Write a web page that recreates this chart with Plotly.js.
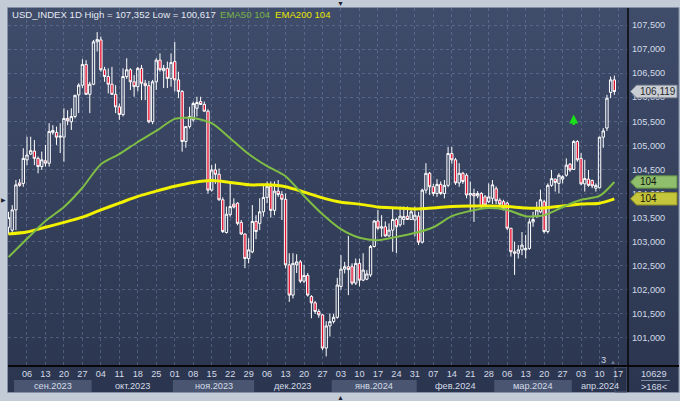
<!DOCTYPE html>
<html>
<head>
<meta charset="utf-8">
<script src="https://cdn.plot.ly/plotly-3.0.1.min.js"></script>
<style>
html,body{margin:0;padding:0;background:#c3cbd7;overflow:hidden;}
#chart{width:680px;height:401px;}
</style>
</head>
<body>
<div id="chart"></div>
<script>
// ---------------- DATA ----------------
const symbolName = 'USD_INDEX';
const timeframe = '1D';
const startDate = '2023-08-30';   // first bar; bars are consecutive weekdays

const open = [
103.30,103.24,103.66,104.22,104.21,104.70,104.82,104.88,104.73,104.56,
104.68,104.63,105.27,105.27,105.17,105.17,105.56,105.49,105.60,106.05,
106.25,106.68,106.06,106.27,107.15,107.19,106.57,106.43,106.27,106.06,
105.80,105.64,106.43,106.57,106.32,106.22,106.60,106.29,106.24,105.49,
106.32,106.77,106.55,106.60,106.39,106.74,106.36,106.12,105.08,105.39,
105.53,105.77,105.91,105.85,105.71,104.07,104.49,104.40,103.87,103.19,
103.56,103.78,103.80,103.40,103.16,102.65,102.79,103.42,103.38,103.62,
103.92,104.15,103.65,104.05,103.98,103.88,102.52,101.89,102.52,102.58,
102.18,102.30,101.86,101.73,101.55,101.48,100.79,101.25,101.34,101.43,
102.07,102.43,102.48,102.48,102.14,102.55,102.20,102.22,102.31,102.90,
103.43,103.28,103.31,103.12,103.24,103.46,103.35,103.46,103.53,103.46,
103.45,103.53,102.99,104.07,104.42,104.14,104.00,104.19,104.00,104.17,
104.83,104.70,104.22,104.42,104.38,103.97,104.00,103.95,104.00,103.93,
103.83,103.90,104.10,103.86,103.83,103.80,103.28,102.79,102.76,102.83,
102.83,102.86,103.41,103.52,103.62,103.83,103.21,104.17,104.30,104.21,
104.30,104.38,104.61,104.50,105.08,104.73,104.20,104.30,104.27,104.11,
104.12,105.17,105.36,106.10,106.36];

const high = [
103.62,103.76,104.28,104.30,104.94,105.18,105.18,105.11,104.77,104.87,
105.01,105.46,105.42,105.39,105.46,105.77,105.73,105.77,106.05,106.29,
106.79,106.77,106.32,107.19,107.352,107.26,106.63,106.60,106.63,106.25,
105.87,106.60,106.81,106.60,106.46,106.63,106.67,106.36,106.34,106.36,
106.81,106.91,106.67,106.74,106.91,107.15,106.53,106.15,105.39,105.80,
105.91,106.01,106.01,105.91,105.75,104.59,104.62,104.52,103.92,103.73,
104.23,103.90,103.82,103.45,103.17,103.07,103.76,103.55,103.90,104.20,
104.25,104.25,104.25,104.28,104.05,104.00,102.76,102.76,102.74,102.62,
102.52,102.35,101.89,101.77,101.60,101.50,101.35,101.51,101.50,102.25,
102.72,102.58,103.12,102.55,102.65,102.65,102.76,102.41,102.93,103.45,
103.66,103.55,103.42,103.38,103.69,103.50,103.73,103.73,103.73,103.66,
103.73,103.62,104.10,104.63,104.45,104.20,104.30,104.25,104.28,104.97,
104.97,104.74,104.63,104.45,104.42,104.25,104.10,104.05,104.03,103.97,
104.21,104.28,104.15,103.90,103.87,103.83,103.28,103.00,102.93,103.20,
103.14,103.48,103.62,103.83,104.08,103.87,104.21,104.49,104.31,104.42,
104.38,104.73,104.63,105.11,105.11,104.84,104.70,104.49,104.29,104.21,
105.18,105.36,106.05,106.43,106.45];

const low = [
103.15,103.14,103.24,104.14,104.14,104.59,104.80,104.59,104.42,104.49,
104.56,104.56,105.22,105.01,104.84,104.66,105.42,105.32,105.56,105.67,
106.19,106.05,105.67,106.25,106.95,106.53,106.32,106.08,106.05,105.67,
105.53,105.60,106.38,106.15,106.01,106.12,105.94,105.94,105.46,105.44,
106.15,106.53,106.19,106.19,106.22,106.12,105.98,104.87,104.95,105.35,
105.49,105.60,105.84,105.70,104.00,104.04,104.20,103.85,103.18,103.17,
103.52,103.69,103.34,103.14,102.45,102.55,102.76,103.05,103.24,103.52,
103.80,103.50,103.55,103.93,103.45,102.45,101.75,101.82,102.35,102.14,
102.14,101.86,101.41,101.50,101.42,100.75,100.617,101.03,101.30,101.40,
102.00,102.34,101.89,102.10,102.10,102.07,102.18,102.20,102.27,102.88,
103.24,103.10,103.10,103.10,102.79,102.76,103.31,103.35,103.45,103.45,
103.11,102.93,102.96,104.00,103.97,103.95,103.93,103.97,103.90,104.13,
104.62,104.18,104.14,104.20,103.90,103.62,103.41,103.90,103.69,103.73,
103.80,103.78,103.78,103.73,103.65,103.24,102.69,102.31,102.65,102.72,
102.65,102.83,103.31,103.50,103.59,103.17,103.17,104.14,104.04,104.00,
104.21,104.35,104.45,104.49,104.66,104.17,104.04,104.14,104.11,104.04,
104.11,104.95,105.30,105.98,106.05];

const close = [
103.50,103.66,104.18,104.17,104.73,104.80,104.89,104.73,104.56,104.70,
104.63,105.29,105.31,105.17,105.19,105.56,105.51,105.60,106.04,106.25,
106.68,106.06,106.27,107.15,107.20,106.57,106.43,106.27,106.06,105.80,
105.64,106.43,106.57,106.32,106.22,106.60,106.29,106.24,105.49,106.32,
106.77,106.57,106.60,106.39,106.72,106.36,106.12,105.08,105.39,105.60,
105.87,105.89,105.85,105.71,104.07,104.49,104.40,103.87,103.21,103.57,
103.73,103.72,103.38,103.16,102.65,102.83,103.42,103.21,103.62,103.92,
104.15,103.65,104.05,103.98,103.88,102.52,101.89,102.55,102.58,102.18,
102.30,101.89,101.73,101.55,101.48,100.79,101.25,101.34,101.43,102.10,
102.43,102.48,102.42,102.14,102.55,102.20,102.41,102.33,102.90,103.43,
103.28,103.31,103.12,103.24,103.46,103.31,103.53,103.52,103.46,103.62,
103.55,102.99,104.07,104.42,104.14,104.00,104.19,104.00,104.17,104.83,
104.70,104.22,104.42,104.25,103.97,104.00,103.95,104.00,103.73,103.76,
103.93,104.18,103.85,103.78,103.69,103.28,102.79,102.76,102.83,102.93,
102.86,103.41,103.46,103.66,103.87,103.21,104.17,104.31,104.23,104.38,
104.35,104.59,104.49,105.08,104.70,104.20,104.31,104.17,104.16,104.17,
105.17,105.30,105.98,106.36,106.119];

// EMA lines (bar index -> value)
const emaIdx = [0,5,10,15,20,25,30,35,40,45,50,55,60,65,70,75,80,85,90,95,100,105,110,115,120,125,130,135,140,145,150,155,160,164];
const ema50 = [102.68,103.06,103.43,103.72,104.12,104.61,104.82,105.07,105.30,105.55,105.57,105.46,105.15,104.82,104.57,104.36,103.95,103.57,103.26,103.08,103.03,103.10,103.18,103.30,103.53,103.64,103.70,103.66,103.53,103.55,103.72,103.87,103.95,104.24];
const ema200 = [103.16,103.20,103.30,103.40,103.51,103.66,103.80,103.94,104.05,104.15,104.23,104.27,104.23,104.18,104.18,104.14,104.03,103.91,103.82,103.78,103.72,103.70,103.68,103.70,103.73,103.74,103.74,103.73,103.70,103.70,103.74,103.78,103.80,103.89];

// buy signal arrow
const signalIdx = [153];
const signalPrice = [105.64];

const yTicks = [101,101.5,102,102.5,103,103.5,104,104.5,105,105.5,106,106.5,107,107.5];
const monthNames = ['янв.','фев.','мар.','апр.','май','июн.','июл.','авг.','сен.','окт.','ноя.','дек.'];
const barCountText = '10629';
const visibleText = '>168<';

// ---------------- BUILD ----------------
const W = 680, H = 401, mL = 8, mR = 52, mT = 8, mB = 35;
const plotW = W - mL - mR, plotH = H - mT - mB;
const px = v => (v - mL) / plotW;          // pixel x -> paper
const py = v => (H - mB - v) / plotH;      // pixel y -> paper
const xRange = [-0.14, 167.7];
const yRange = [100.418, 107.853];

// weekday calendar
const dates = [];
{
  const d = new Date(startDate + 'T00:00:00Z');
  while (dates.length < open.length + 1) {
    const wd = d.getUTCDay();
    if (wd !== 0 && wd !== 6) dates.push(new Date(d));
    d.setUTCDate(d.getUTCDate() + 1);
  }
}
const idx = open.map((_, i) => i);
const fmt = v => v.toFixed(3).replace('.', ',');

// weekly ticks on Wednesdays
const tickvals = [], ticktext = [];
dates.forEach((d, i) => {
  if (d.getUTCDay() === 3 && i >= 1) {
    tickvals.push(i);
    ticktext.push(String(d.getUTCDate()).padStart(2, '0'));
  }
});

const GRID = 'rgba(120,140,178,0.45)';
const TXT = '#d3dbe8';
const FONT = 'Liberation Sans, Arial, sans-serif';

const shapes = [];
const annotations = [];

// dark panel outline
shapes.push({type:'rect', xref:'paper', yref:'paper', x0:px(7.5), x1:px(679), y0:py(392.5), y1:py(7.5),
  line:{color:'#8390a6', width:1}, fillcolor:'rgba(0,0,0,0)', layer:'below'});

// month boxes
const months = [];
dates.forEach((d, i) => {
  const key = d.getUTCFullYear() * 12 + d.getUTCMonth();
  if (!months.length || months[months.length-1].key !== key)
    months.push({key, m:d.getUTCMonth(), y:d.getUTCFullYear(), first:i, last:i});
  else months[months.length-1].last = i;
});
months.forEach((mo, k) => {
  const a = Math.max(mo.first - 0.5, xRange[0]);
  const b = (k === months.length - 1) ? xRange[1] : Math.min(mo.last + 0.5, xRange[1]);
  if (mo.m % 2 === 0) {
    shapes.push({type:'rect', xref:'x', yref:'paper', x0:a, x1:b, y0:py(392), y1:py(380),
      fillcolor:'#4a5671', line:{width:0}, layer:'below'});
  }
  if ((b - a) > 8) {
    annotations.push({xref:'x', yref:'paper', x:(a + b) / 2, y:py(386), showarrow:false,
      text: monthNames[mo.m] + mo.y, font:{family:FONT, size:9.2, color:TXT}, xanchor:'center', yanchor:'middle'});
  }
});
// future / current area box at bottom right
shapes.push({type:'rect', xref:'paper', yref:'paper', x0:px(615), x1:px(627), y0:py(392), y1:py(367),
  fillcolor:'#28314a', line:{color:'#4f5b74', width:1}, layer:'below'});

// black separator lines
shapes.push({type:'line', xref:'paper', yref:'paper', x0:px(8), x1:px(679), y0:0, y1:0, line:{color:'#080808', width:2}});
shapes.push({type:'line', xref:'paper', yref:'paper', x0:1, x1:1, y0:py(392), y1:py(8), line:{color:'#080808', width:1.5}});
// small line between the bottom-right counters
shapes.push({type:'line', xref:'paper', yref:'paper', x0:px(641), x1:px(670), y0:py(380.5), y1:py(380.5), line:{color:'#7d8aa0', width:1}});

// price tags on the right
const last = close.length - 1;
function tag(val, fill, border, txt, txtColor) {
  const h = 6.2 / 48.15;
  const xt = px(630.5), x1 = px(636.5), x2 = px(677);
  shapes.push({type:'path', xref:'paper', yref:'y',
    path:`M ${xt},${val} L ${x1},${val + h} L ${x2},${val + h} L ${x2},${val - h} L ${x1},${val - h} Z`,
    fillcolor:fill, line:{color:border, width:1}, layer:'above'});
  annotations.push({xref:'paper', yref:'y', x:px(637.5), y:val, text:txt, showarrow:false,
    xanchor:'left', yanchor:'middle', font:{family:FONT, size:10, color:txtColor}});
}
tag(close[last], '#c9cdd4', '#8e949e', fmt(close[last]), '#2a2a2a');
tag(ema50[ema50.length-1], '#8fbe6c', '#5d8a45', String(Math.round(ema50[ema50.length-1])), '#111');
tag(ema200[ema200.length-1], '#c6c63c', '#8c8c24', String(Math.round(ema200[ema200.length-1])), '#111');

// header texts
const hi = Math.max(...high), lo = Math.min(...low);
annotations.push({xref:'paper', yref:'paper', x:px(10), y:py(14), xanchor:'left', yanchor:'middle', showarrow:false,
  text:`${symbolName} ${timeframe} High = ${fmt(hi)} Low = ${fmt(lo)}`, font:{family:FONT, size:9.6, color:'#e4e9f1'}});
annotations.push({xref:'paper', yref:'paper', x:px(218), y:py(14), xanchor:'left', yanchor:'middle', showarrow:false,
  text:`EMA50 ${Math.round(ema50[ema50.length-1])}`, font:{family:FONT, size:9.6, color:'#79b447'}});
annotations.push({xref:'paper', yref:'paper', x:px(273), y:py(14), xanchor:'left', yanchor:'middle', showarrow:false,
  text:`EMA200 ${Math.round(ema200[ema200.length-1])}`, font:{family:FONT, size:9.6, color:'#e6e600'}});

// bottom-right counters
annotations.push({xref:'paper', yref:'paper', x:px(654), y:py(373.5), showarrow:false, text:barCountText,
  font:{family:FONT, size:9.2, color:TXT}, xanchor:'center', yanchor:'middle'});
annotations.push({xref:'paper', yref:'paper', x:px(654), y:py(387), showarrow:false, text:visibleText,
  font:{family:FONT, size:9.2, color:TXT}, xanchor:'center', yanchor:'middle'});
// small markers
annotations.push({xref:'paper', yref:'paper', x:px(603), y:py(359.5), showarrow:false, text:'3',
  font:{family:FONT, size:9.2, color:TXT}, xanchor:'center', yanchor:'middle'});
annotations.push({xref:'paper', yref:'paper', x:px(613), y:py(361.5), showarrow:false, text:'▲',
  font:{family:FONT, size:6, color:'#6f7b92'}, xanchor:'center', yanchor:'middle'});
annotations.push({xref:'paper', yref:'paper', x:px(340), y:py(3.5), showarrow:false, text:'▼',
  font:{family:FONT, size:7, color:'#1c2230'}, xanchor:'center', yanchor:'middle'});
annotations.push({xref:'paper', yref:'paper', x:px(340), y:py(397.5), showarrow:false, text:'▲',
  font:{family:FONT, size:7, color:'#1c2230'}, xanchor:'center', yanchor:'middle'});
annotations.push({xref:'paper', yref:'paper', x:px(3.5), y:py(200), showarrow:false, text:'▶',
  font:{family:FONT, size:6, color:'#1c2230'}, xanchor:'center', yanchor:'middle'});

// signal arrow(s)
signalIdx.forEach((si, k) => {
  annotations.push({xref:'x', yref:'y', x:si, y:signalPrice[k], ax:0, ay:12, text:'', showarrow:true,
    arrowhead:2, arrowsize:0.75, arrowwidth:2.4, arrowcolor:'#19e019', standoff:0});
});

const gradSvg = '<svg xmlns="http://www.w3.org/2000/svg" width="672" height="385" preserveAspectRatio="none">' +
  '<defs><linearGradient id="g" x1="0" y1="0" x2="0" y2="1"><stop offset="0" stop-color="#3f4c6a"/>' +
  '<stop offset="1" stop-color="#2b354f"/></linearGradient></defs><rect width="672" height="385" fill="url(#g)"/></svg>';

const traces = [
  {
    type:'candlestick', x:idx, open, high, low, close,
    increasing:{line:{color:'#ffffff', width:1}, fillcolor:'rgba(0,0,0,0)'},
    decreasing:{line:{color:'#ffffff', width:1}, fillcolor:'#e3102f'},
    whiskerwidth:0, hoverinfo:'skip', showlegend:false
  },
  {
    type:'scatter', mode:'lines', x:emaIdx, y:ema200, line:{color:'#f2f200', width:3, shape:'spline', smoothing:0.7},
    hoverinfo:'skip', showlegend:false
  },
  {
    type:'scatter', mode:'lines', x:emaIdx, y:ema50, line:{color:'#7fbd45', width:2, shape:'spline', smoothing:0.7},
    hoverinfo:'skip', showlegend:false
  }
];

const layout = {
  width:W, height:H,
  margin:{l:mL, r:mR, t:mT, b:mB, pad:0},
  paper_bgcolor:'#c3cbd7',
  plot_bgcolor:'#35415e',
  separators:', ',
  showlegend:false,
  boxgap:0.22, boxgroupgap:0.18,
  images:[{source:'data:image/svg+xml;utf8,' + encodeURIComponent(gradSvg), xref:'paper', yref:'paper',
    x:px(8), y:py(8), sizex:px(679) - px(8), sizey:py(8) - py(392), sizing:'stretch', xanchor:'left', yanchor:'top', layer:'below'}],
  xaxis:{
    range:xRange, tickmode:'array', tickvals, ticktext, showgrid:true, gridcolor:GRID, griddash:'3px,3px', gridwidth:1,
    zeroline:false, showline:false, ticks:'', ticklabelstandoff:1,
    tickfont:{family:FONT, size:9.2, color:TXT}, rangeslider:{visible:false}, fixedrange:true
  },
  yaxis:{
    side:'right', range:yRange, tickmode:'array', tickvals:yTicks, tickformat:'.3f',
    showgrid:true, gridcolor:GRID, griddash:'3px,3px', gridwidth:1, zeroline:false, showline:false, ticks:'',
    ticklabelstandoff:3, tickfont:{family:FONT, size:9.2, color:TXT}, fixedrange:true
  },
  shapes, annotations
};

Plotly.newPlot('chart', traces, layout, {staticPlot:true, displayModeBar:false});
</script>
</body>
</html>
